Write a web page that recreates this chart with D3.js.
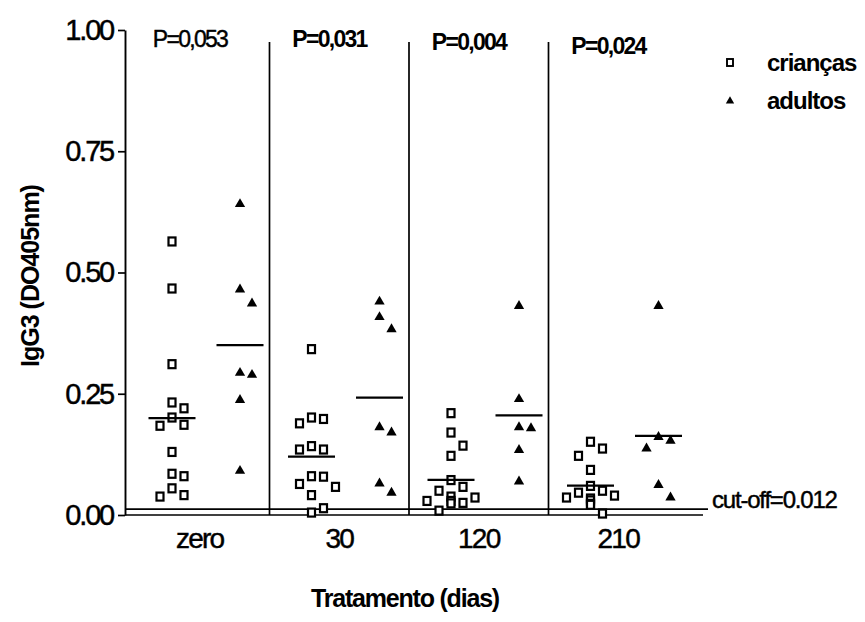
<!DOCTYPE html>
<html>
<head>
<meta charset="utf-8">
<script src="https://cdn.jsdelivr.net/npm/d3@7"></script>
<style>
  html, body { margin: 0; padding: 0; background: #fff; }
  svg { display: block; font-family: "Liberation Sans", Arial, sans-serif; }
  text { fill: #000; }
  .thick { stroke: #000; stroke-width: 0.45px; }
</style>
</head>
<body>
<svg id="chart" width="865" height="622"></svg>
<script>
// IgG3 (DO405nm) by treatment day, children vs adults
const categories = ["zero", "30", "120", "210"];
const pLabels = ["P=0,053", "P=0,031", "P=0,004", "P=0,024"];
const yTicks = [0, 0.25, 0.5, 0.75, 1.0];
const cutOff = 0.012;

const criancasZero = [0.564, 0.467, 0.311, 0.232, 0.220, 0.201, 0.186, 0.184, 0.130, 0.085, 0.080, 0.055, 0.041, 0.038];
const criancas30   = [0.342, 0.201, 0.198, 0.189, 0.142, 0.135, 0.135, 0.080, 0.079, 0.064, 0.058, 0.041, 0.014, 0.005];
const criancas120  = [0.210, 0.170, 0.143, 0.122, 0.072, 0.058, 0.050, 0.038, 0.036, 0.029, 0.029, 0.025, 0.024, 0.009];
const criancas210  = [0.151, 0.137, 0.122, 0.093, 0.060, 0.050, 0.046, 0.040, 0.036, 0.034, 0.030, 0.023, 0.021, 0.003];

const adultosZero = [0.641, 0.465, 0.436, 0.293, 0.289, 0.237, 0.091];
const adultos30   = [0.440, 0.408, 0.383, 0.181, 0.170, 0.065, 0.046];
const adultos120  = [0.431, 0.239, 0.181, 0.179, 0.134, 0.069];
const adultos210  = [0.431, 0.161, 0.153, 0.137, 0.062, 0.036];

const criancas = [criancasZero, criancas30, criancas120, criancas210];
const adultos  = [adultosZero, adultos30, adultos120, adultos210];

const svg = d3.select("#chart");

const y = d3.scaleLinear().domain([0, 1]).range([515, 30]);
const x = d3.scaleBand().domain(categories).range([130, 688]).paddingInner(0).paddingOuter(0);
const sub = d3.scalePoint().domain(["criancas", "adultos"]).range([42, 110]);

const axisLeftEdge = 125, axisRightEdge = 703;

// group separators
svg.append("g").selectAll("line")
  .data(categories.slice(1))
  .join("line")
  .attr("x1", d => x(d)).attr("x2", d => x(d))
  .attr("y1", 42).attr("y2", y(0))
  .attr("stroke", "#000").attr("stroke-width", 1.7);

// x axis baseline
svg.append("line")
  .attr("x1", axisLeftEdge).attr("x2", axisRightEdge)
  .attr("y1", y(0)).attr("y2", y(0))
  .attr("stroke", "#000").attr("stroke-width", 1.7);

// cut-off line
svg.append("line")
  .attr("x1", axisLeftEdge).attr("x2", 708)
  .attr("y1", y(cutOff)).attr("y2", y(cutOff))
  .attr("stroke", "#000").attr("stroke-width", 1.7);
svg.append("text")
  .attr("class", "thick")
  .attr("x", 712).attr("y", y(cutOff) - 1)
  .attr("font-size", 24).attr("letter-spacing", -1.2)
  .text("cut-off=" + String(cutOff));

// y axis
const yAxis = svg.append("g")
  .attr("transform", `translate(${axisLeftEdge},0)`)
  .call(d3.axisLeft(y).tickValues(yTicks).tickFormat(d3.format(".2f")).tickSize(7).tickSizeOuter(0).tickPadding(5));
yAxis.select(".domain").attr("stroke-width", 1.9);
yAxis.selectAll(".tick line").attr("stroke-width", 1.7);
yAxis.selectAll(".tick text")
  .attr("class", "thick")
  .attr("font-size", 29).attr("letter-spacing", -2.2)
  .attr("font-family", "Liberation Sans, Arial, sans-serif");

// x axis labels
const xAxis = svg.append("g")
  .attr("transform", `translate(0,${y(0)})`)
  .call(d3.axisBottom(x).tickSize(0).tickPadding(13));
xAxis.select(".domain").remove();
xAxis.selectAll(".tick text")
  .attr("class", "thick")
  .attr("font-size", 28).attr("letter-spacing", -1.8)
  .attr("font-family", "Liberation Sans, Arial, sans-serif");

// P-values above each group
svg.append("g").selectAll("text")
  .data(categories)
  .join("text")
  .attr("class", (d, i) => i === 0 ? "thick" : null)
  .attr("x", d => x(d) + 60)
  .attr("y", (d, i) => [47, 47, 50, 54][i])
  .attr("text-anchor", "middle")
  .attr("font-size", 23).attr("letter-spacing", -1.7)
  .attr("font-weight", (d, i) => i === 0 ? "normal" : "bold")
  .text((d, i) => pLabels[i]);

// spread overlapping points sideways into slots
function dodge(values, step, minGap) {
  const placed = [];
  const slots = [0, 1, -1, 2, -2];
  return values.map(v => {
    const py = y(v);
    let slot = 0;
    for (const s of slots) {
      if (!placed.some(p => p.slot === s && Math.abs(p.py - py) < minGap)) { slot = s; break; }
    }
    placed.push({ slot, py });
    return { value: v, dx: slot * step, py };
  });
}

const squareW = 7, squareH = 8;
const triangle = d3.symbol(d3.symbolTriangle, 46);

categories.forEach((cat, i) => {
  const g = svg.append("g");
  const cx = x(cat) + sub("criancas");
  const ax = x(cat) + sub("adultos");

  g.selectAll("rect.c")
    .data(dodge(criancas[i], 12, 14.5))
    .join("rect")
    .attr("class", "c")
    .attr("x", d => cx + d.dx - squareW / 2)
    .attr("y", d => d.py - squareH / 2)
    .attr("width", squareW).attr("height", squareH)
    .attr("fill", "#fff").attr("stroke", "#000").attr("stroke-width", 2.2);

  g.selectAll("path.a")
    .data(dodge(adultos[i], 12, 14.5))
    .join("path")
    .attr("class", "a")
    .attr("d", triangle)
    .attr("transform", d => `translate(${ax + d.dx},${d.py})`)
    .attr("fill", "#000");

  // mean lines
  const lines = [
    { cx: cx, m: d3.mean(criancas[i]) },
    { cx: ax, m: d3.mean(adultos[i]) }
  ];
  g.selectAll("line.mean")
    .data(lines)
    .join("line")
    .attr("class", "mean")
    .attr("x1", d => d.cx - 23.5).attr("x2", d => d.cx + 23.5)
    .attr("y1", d => y(d.m)).attr("y2", d => y(d.m))
    .attr("stroke", "#000").attr("stroke-width", 2.2);
});

// legend
const legend = svg.append("g").attr("transform", "translate(730,0)");
legend.append("rect")
  .attr("x", -3).attr("y", 59).attr("width", 6).attr("height", 7)
  .attr("fill", "#fff").attr("stroke", "#000").attr("stroke-width", 1.9);
legend.append("path")
  .attr("d", d3.symbol(d3.symbolTriangle, 30))
  .attr("transform", "translate(0,101)")
  .attr("fill", "#000");
legend.append("text")
  .attr("x", 37).attr("y", 71)
  .attr("font-size", 24).attr("font-weight", "bold").attr("letter-spacing", -1)
  .text("crianças");
legend.append("text")
  .attr("x", 37).attr("y", 109)
  .attr("font-size", 24).attr("font-weight", "bold").attr("letter-spacing", -1)
  .text("adultos");

// axis titles
svg.append("text")
  .attr("transform", "translate(39,276) rotate(-90)")
  .attr("text-anchor", "middle")
  .attr("font-size", 25).attr("font-weight", "bold").attr("letter-spacing", -1)
  .text("IgG3 (DO405nm)");

svg.append("text")
  .attr("x", 405).attr("y", 607)
  .attr("text-anchor", "middle")
  .attr("font-size", 25).attr("font-weight", "bold").attr("letter-spacing", -1.2)
  .text("Tratamento (dias)");
</script>
</body>
</html>
